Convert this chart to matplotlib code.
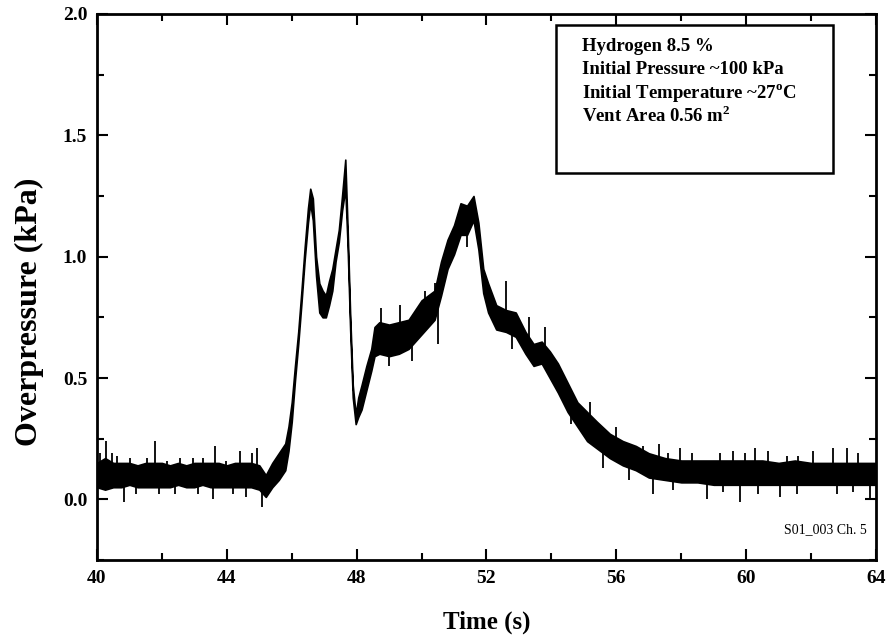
import matplotlib
matplotlib.use("Agg")
import matplotlib.pyplot as plt
import numpy as np
from matplotlib.patches import Rectangle
from matplotlib.ticker import MultipleLocator

# ---- data: band envelope of the noisy trace ----
time_s = [40.0, 40.25, 40.5, 40.75, 41.0, 41.25, 41.5, 41.75, 42.0, 42.25,
          42.5, 42.75, 43.0, 43.25, 43.5, 43.75, 44.0, 44.25, 44.5, 44.75,
          45.0, 45.2, 45.4, 45.6, 45.8, 45.9, 46.0, 46.1, 46.2, 46.3,
          46.4, 46.5, 46.57, 46.65, 46.75, 46.85, 46.95, 47.05, 47.15, 47.25,
          47.35, 47.45, 47.55, 47.65, 47.72, 47.8, 47.88, 47.97, 48.05, 48.15,
          48.3, 48.45, 48.55, 48.7, 49.0, 49.3, 49.6, 49.8, 50.0, 50.2,
          50.4, 50.6, 50.8, 51.0, 51.2, 51.4, 51.6, 51.75, 51.9, 52.05,
          52.3, 52.6, 52.9, 53.2, 53.45, 53.7, 53.95, 54.2, 54.5, 54.8,
          55.1, 55.4, 55.8, 56.2, 56.6, 57.0, 57.5, 58.0, 58.5, 59.0,
          59.5, 60.0, 60.5, 61.0, 61.5, 62.0, 62.5, 63.0, 63.5, 64.0]
p_low = [0.05, 0.04, 0.05, 0.05, 0.06, 0.05, 0.05, 0.05, 0.05, 0.05,
         0.06, 0.05, 0.05, 0.06, 0.05, 0.05, 0.05, 0.05, 0.05, 0.05,
         0.04, 0.01, 0.05, 0.08, 0.12, 0.20, 0.32, 0.49, 0.64, 0.81,
         0.99, 1.14, 1.22, 1.15, 0.92, 0.77, 0.75, 0.75, 0.80, 0.86,
         0.98, 1.06, 1.19, 1.28, 1.05, 0.70, 0.42, 0.31, 0.34, 0.37,
         0.45, 0.53, 0.59, 0.60, 0.59, 0.60, 0.62, 0.65, 0.68, 0.71,
         0.74, 0.84, 0.95, 1.01, 1.09, 1.09, 1.15, 1.03, 0.85, 0.77,
         0.70, 0.69, 0.67, 0.60, 0.55, 0.56, 0.50, 0.44, 0.36, 0.30,
         0.24, 0.21, 0.17, 0.14, 0.12, 0.09, 0.08, 0.07, 0.07, 0.06,
         0.06, 0.06, 0.06, 0.06, 0.06, 0.06, 0.06, 0.06, 0.06, 0.06]
p_high = [0.15, 0.17, 0.15, 0.15, 0.15, 0.14, 0.15, 0.15, 0.15, 0.14,
          0.15, 0.14, 0.15, 0.15, 0.15, 0.15, 0.14, 0.15, 0.15, 0.15,
          0.14, 0.10, 0.15, 0.19, 0.23, 0.30, 0.40, 0.55, 0.69, 0.86,
          1.04, 1.20, 1.28, 1.24, 1.00, 0.89, 0.86, 0.84, 0.90, 0.95,
          1.03, 1.11, 1.25, 1.40, 1.12, 0.76, 0.47, 0.35, 0.42, 0.47,
          0.55, 0.62, 0.71, 0.73, 0.72, 0.73, 0.74, 0.78, 0.82, 0.84,
          0.86, 0.98, 1.07, 1.13, 1.22, 1.21, 1.25, 1.14, 0.95, 0.89,
          0.80, 0.78, 0.77, 0.69, 0.64, 0.65, 0.61, 0.56, 0.48, 0.40,
          0.36, 0.32, 0.27, 0.24, 0.22, 0.19, 0.17, 0.16, 0.16, 0.16,
          0.16, 0.16, 0.16, 0.15, 0.16, 0.15, 0.15, 0.15, 0.15, 0.15]

# isolated noise spikes (time, extreme value)
spike_t = [40.0, 40.1, 40.28, 40.45, 40.61, 40.83, 41.02, 41.2, 41.53, 41.79,
           41.9, 42.15, 42.4, 42.56, 42.97, 43.1, 43.28, 43.58, 43.63, 43.99,
           44.2, 44.4, 44.6, 44.77, 44.93, 45.07,
           48.75, 49.0, 49.35, 49.7, 50.1, 50.4, 50.5, 51.4, 52.6, 52.8,
           53.3, 53.8, 54.6, 55.2, 55.6, 56.0, 56.4,
           56.83, 57.13, 57.31, 57.6, 57.75, 57.96, 58.32, 58.79, 59.19, 59.29,
           59.6, 59.8, 59.96, 60.27, 60.37, 60.67, 61.04, 61.25, 61.56, 61.6,
           62.07, 62.67, 62.8, 63.1, 63.3, 63.45, 63.8]
spike_v = [0.02, 0.19, 0.24, 0.19, 0.18, -0.01, 0.17, 0.02, 0.17, 0.24,
           0.02, 0.16, 0.02, 0.17, 0.17, 0.02, 0.17, 0.00, 0.22, 0.16,
           0.02, 0.20, 0.01, 0.19, 0.21, -0.03,
           0.79, 0.55, 0.80, 0.57, 0.86, 0.89, 0.64, 1.04, 0.90, 0.62,
           0.75, 0.71, 0.31, 0.40, 0.13, 0.30, 0.08,
           0.22, 0.02, 0.23, 0.19, 0.04, 0.21, 0.19, 0.00, 0.19, 0.03,
           0.20, -0.01, 0.19, 0.21, 0.02, 0.20, 0.01, 0.18, 0.02, 0.18,
           0.20, 0.21, 0.02, 0.21, 0.03, 0.19, 0.00]

x_ticks = [40, 44, 48, 52, 56, 60, 64]
y_ticks = [0.0, 0.5, 1.0, 1.5, 2.0]
info_lines = ["Hydrogen 8.5 %", "Initial Pressure ~100 kPa",
              "Initial Temperature ~27$^{\\mathregular{o}}$C",
              "Vent Area 0.56 m$^{\\mathregular{2}}$"]

plt.rcParams['font.family'] = ['Liberation Serif', 'DejaVu Serif']
plt.rcParams['mathtext.fontset'] = 'custom'
plt.rcParams['mathtext.rm'] = 'Liberation Serif:bold'

fig = plt.figure(figsize=(8.88, 6.39), dpi=100)
ax = fig.add_axes([0.1092, 0.1236, 0.8773, 0.8545])

ax.fill_between(time_s, p_low, p_high, color='black', linewidth=1.2,
                edgecolor='black')
mid = np.interp(spike_t, time_s, [(a + b) / 2 for a, b in zip(p_low, p_high)])
ax.vlines(spike_t, mid, spike_v, color='black', linewidth=1.3)

ax.set_xlim(40, 64)
ax.set_ylim(-0.25, 2.0)
ax.set_xticks(x_ticks)
ax.set_yticks(y_ticks)
ax.xaxis.set_minor_locator(MultipleLocator(2))
ax.yaxis.set_minor_locator(MultipleLocator(0.25))
ax.set_xticklabels([str(v) for v in x_ticks], fontweight='bold', fontsize=14)
ax.set_yticklabels([f"{v:.1f}" for v in y_ticks], fontweight='bold', fontsize=14)
ax.tick_params(which='both', direction='in', top=True, right=True, width=1.5)
ax.tick_params(which='major', length=8, pad=7)
ax.tick_params(which='minor', length=5)
for s in ax.spines.values():
    s.set_linewidth(2)

ax.set_xlabel("Time (s)", fontsize=18, fontweight='bold', labelpad=17)
ax.set_ylabel("Overpressure (kPa)", fontsize=23, fontweight='bold')
ax.yaxis.set_label_coords(-0.068, 0.455)

# info box
ax.add_patch(Rectangle((0.5892, 0.7089), 0.3556, 0.2718, transform=ax.transAxes,
                       fill=False, edgecolor='black', linewidth=1.8))
for i, line in enumerate(info_lines):
    ax.text(0.6225, 0.9396 - i * 0.0421, line, transform=ax.transAxes,
            fontsize=13.5, fontweight='bold', va='center', ha='left')

ax.text(0.988, 0.0565, "S01_003 Ch. 5", transform=ax.transAxes,
        fontsize=10, ha='right', va='center')

fig.savefig("out.png", dpi=100)
